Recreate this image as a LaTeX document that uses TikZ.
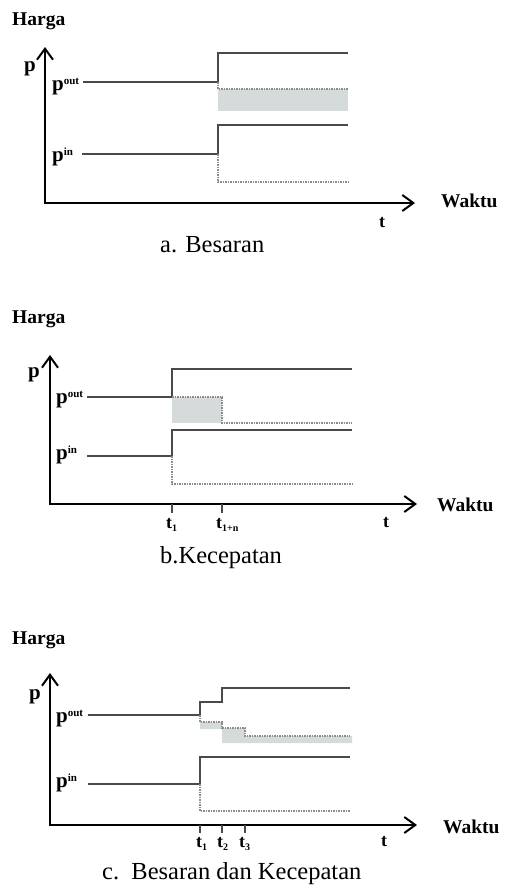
\documentclass[tikz,border=0pt]{standalone}
\usepackage{fontspec}
\setmainfont{Liberation Serif}
\usetikzlibrary{arrows.meta}
\definecolor{sigc}{HTML}{4A4A4A}
\definecolor{dshc}{HTML}{8C8C8C}
\definecolor{shadec}{HTML}{D5DADA}
\newcommand{\supx}[1]{\raisebox{6pt}{\fontsize{11}{11}\selectfont #1}}
\newcommand{\subx}[1]{\raisebox{-3.5pt}{\fontsize{10}{10}\selectfont #1}}
\begin{document}
\begin{tikzpicture}[x=1pt,y=-1pt,
 axis/.style={line width=2.6pt, line join=miter, {Straight Barb[length=11pt,width=16pt,line width=2pt]}-{Straight Barb[length=11pt,width=16pt,line width=2pt]}},
 sig/.style={line width=1.4pt, draw=sigc},
 dsh/.style={line width=1.2pt, draw=dshc, dash pattern=on 1.6pt off 0.9pt},
 shade/.style={fill=shadec, draw=none},
 tck/.style={line width=1.2pt, draw=sigc},
 hd/.style={font=\fontsize{19.5}{20}\selectfont\bfseries, inner sep=0pt, anchor=base west},
 lb/.style={font=\fontsize{18}{18}\selectfont\bfseries, inner sep=0pt, anchor=base west},
 pl/.style={font=\fontsize{21}{21}\selectfont\bfseries, inner sep=0pt, anchor=base west},
 captxt/.style={font=\fontsize{24.5}{25}\selectfont, inner sep=0pt, anchor=base west},
]
\useasboundingbox (0,0) rectangle (504,886);

% ---------------- panel a ----------------
\fill[shade] (218,89) rectangle (348,111);
\draw[axis] (45,47) -- (45,203) -- (415,203);
\draw[sig] (83,82) -- (218,82) -- (218,53) -- (348,53);
\draw[dsh] (218,82) -- (218,89) -- (348,89);
\draw[sig] (82,154) -- (218,154) -- (218,125) -- (348,125);
\draw[dsh] (218,154) -- (218,182) -- (348,182);
\node[hd] (ha) at (12,25) {Harga};
\node[pl] (pa) at (24,71) {p};
\node[pl] (pouta) at (52,90) {p\supx{out}};
\node[pl] (pina) at (52,161) {p\supx{in}};
\node[hd] (wa) at (441,207) {Waktu};
\node[lb] (ta) at (379,227) {t};
\node[captxt] (capa) at (160,252) {a. Besaran};

% ---------------- panel b ----------------
\fill[shade] (172,397) rectangle (222,423);
\draw[axis] (50,355) -- (50,504) -- (417,504);
\draw[sig] (87,397) -- (172,397) -- (172,369) -- (352,369);
\draw[dsh] (172,397) -- (222,397) -- (222,423) -- (352,423);
\draw[sig] (87,456) -- (172,456) -- (172,430) -- (352,430);
\draw[dsh] (172,456) -- (172,484) -- (352,484);
\draw[tck] (172,504) -- (172,513);
\draw[tck] (222,504) -- (222,513);
\node[hd] (hb) at (12,323) {Harga};
\node[pl] (pb) at (28,377) {p};
\node[pl] (poutb) at (56,403) {p\supx{out}};
\node[pl] (pinb) at (56,459) {p\supx{in}};
\node[lb] (t1b) at (166,528) {t\subx{1}};
\node[lb] (tnb) at (216,528) {t\subx{1+n}};
\node[lb] (tb) at (383,527) {t};
\node[hd] (wb) at (437,511) {Waktu};
\node[captxt] (capb) at (160,563) {b.Kecepatan};

% ---------------- panel c ----------------
\fill[shade] (200,722) -- (222,722) -- (222,728) -- (245,728) -- (245,736) -- (352,736)
  -- (352,743) -- (222,743) -- (222,729) -- (200,729) -- cycle;
\draw[axis] (50,673) -- (50,825) -- (417,825);
\draw[sig] (88,715) -- (200,715) -- (200,702) -- (222,702) -- (222,688) -- (350,688);
\draw[dsh] (200,715) -- (200,722) -- (222,722) -- (222,728) -- (245,728) -- (245,736) -- (350,736);
\draw[sig] (88,784) -- (200,784) -- (200,757) -- (350,757);
\draw[dsh] (200,784) -- (200,811) -- (350,811);
\draw[tck] (200,825) -- (200,833);
\draw[tck] (222,825) -- (222,833);
\draw[tck] (245,825) -- (245,833);
\node[hd] (hc) at (12,644) {Harga};
\node[pl] (pc) at (29,699) {p};
\node[pl] (poutc) at (56,722) {p\supx{out}};
\node[pl] (pinc) at (56,787) {p\supx{in}};
\node[lb] (t1c) at (196,847) {t\subx{1}};
\node[lb] (t2c) at (217,847) {t\subx{2}};
\node[lb] (t3c) at (239,847) {t\subx{3}};
\node[lb] (tc) at (381,846) {t};
\node[hd] (wc) at (443,833) {Waktu};
\node[captxt] (capc) at (102,879) {c.\ \ Besaran dan Kecepatan};
\end{tikzpicture}
\end{document}
